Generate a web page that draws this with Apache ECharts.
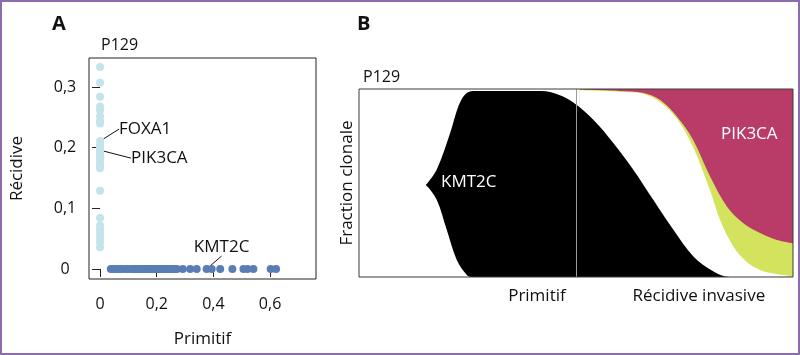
<!DOCTYPE html>
<html><head><meta charset="utf-8">
<script src="https://cdn.jsdelivr.net/npm/echarts@6/dist/echarts.min.js"></script>
<style>html,body{margin:0;padding:0;background:#fff}#c{width:800px;height:355px}</style>
</head><body><div id="c"></div>
<script>
// ---------- Panel A data (scatter, VAF) ----------
const recidiveOnlyY = [0.333, 0.307, 0.284, 0.268, 0.262, 0.252, 0.244, 0.240, 0.205, 0.201, 0.191, 0.186, 0.181, 0.175, 0.170, 0.166, 0.129, 0.084, 0.072, 0.065, 0.058, 0.051, 0.044, 0.036];
const primitifOnlyX = [0.038, 0.045, 0.053, 0.062, 0.071, 0.080, 0.092, 0.100, 0.112, 0.118, 0.124, 0.132, 0.139, 0.146, 0.153, 0.159, 0.165, 0.171, 0.176, 0.182, 0.188, 0.194, 0.200, 0.206, 0.212, 0.218, 0.224, 0.230, 0.235, 0.241, 0.247, 0.253, 0.259, 0.265, 0.271, 0.292, 0.318, 0.341, 0.394, 0.424, 0.467, 0.506, 0.520, 0.541, 0.602, 0.621];
const foxa1Y = 0.211;
const pik3caY = 0.196;
const kmt2cX = 0.376;
const xTicksA = [0, 0.2, 0.4, 0.6];
const yTicksA = [0, 0.1, 0.2, 0.3];

// ---------- Panel B data (fish plot boundaries, x in % of time span) ----------
const pik3caTop = [[50.9, 1], [100, 1]];
const pik3caBottom = [[50.9, 0.997], [60, 0.99], [65.4, 0.98], [69.4, 0.941], [73.3, 0.853], [77, 0.729], [80.9, 0.534], [84.8, 0.374], [88.5, 0.287], [92.4, 0.234], [96.3, 0.197], [100, 0.18]];
const yellowBottom = [[50.9, 0.993], [60, 0.985], [65.4, 0.975], [69.4, 0.93], [73.3, 0.84], [77, 0.69], [80.9, 0.46], [83.2, 0.303], [86.3, 0.161], [89.3, 0.081], [92.4, 0.037], [96.2, 0.016], [100, 0.005]];
const kmt2cTop = [[15.4, 0.49], [17.9, 0.571], [21.0, 0.766], [22.9, 0.908], [24.4, 0.97], [26.3, 0.989], [30, 0.99], [42, 0.99], [46, 0.97], [49.3, 0.93], [54, 0.837], [58.6, 0.713], [63.2, 0.571], [67.8, 0.411], [72.4, 0.252], [77, 0.11], [81.6, 0.03], [85.4, 0], [100, 0]];
const kmt2cBottom = [[14, 0.5], [15.4, 0.49], [17.9, 0.411], [20.2, 0.252], [22.5, 0.092], [24.8, 0.012], [25.9, 0], [27, 0]];
const dividerX = 50;
const timepointPos = [41, 78.3];
const timepointLabels = ['Primitif', 'Récidive invasive'];

const FONT = 'Open Sans';
const PINK = '#b83c67', YELLOW = '#d3e35e', LIGHT = '#c5e3eb', DARK = '#5a7db6';
const fmt = v => (Math.abs(v) < 1e-9 ? '0' : String(+v.toFixed(2)).replace('.', ','));

const chart = echarts.init(document.getElementById('c'), null, {renderer: 'canvas'});

const fishArea = (name, data, color) => ({
  name, type: 'line', xAxisIndex: 1, yAxisIndex: 1, data,
  smooth: 0.35, symbol: 'none', silent: true,
  lineStyle: {width: 0, opacity: 0},
  areaStyle: {color, opacity: 1, origin: 'start'}
});

const option = {
  animation: false,
  textStyle: {fontFamily: FONT, color: '#111'},
  title: [
    {text: 'A', left: 47, top: 9, textStyle: {fontSize: 20, fontWeight: 'bold', color: '#111', fontFamily: FONT}},
    {text: 'B', left: 352, top: 9, textStyle: {fontSize: 20, fontWeight: 'bold', color: '#111', fontFamily: FONT}},
    {text: 'P129', left: 96, top: 32, textStyle: {fontSize: 16, fontWeight: 'normal', color: '#111', fontFamily: FONT}},
    {text: 'P129', left: 358, top: 64, textStyle: {fontSize: 16, fontWeight: 'normal', color: '#111', fontFamily: FONT}}
  ],
  grid: [
    {left: 89, top: 58, width: 227, height: 221, show: true, borderColor: '#222', borderWidth: 1, backgroundColor: 'transparent'},
    {left: 359, top: 89, width: 434, height: 188, show: true, borderColor: '#3a3a3a', borderWidth: 1, backgroundColor: 'transparent', z: 10}
  ],
  xAxis: [
    {gridIndex: 0, type: 'value', min: -0.039, max: 0.762,
     name: 'Primitif', nameLocation: 'middle', nameGap: 52,
     nameTextStyle: {fontSize: 17, color: '#111', fontFamily: FONT},
     axisLine: {show: false}, splitLine: {show: false},
     axisTick: {show: true, inside: false, length: 8, customValues: xTicksA, lineStyle: {color: '#222'}},
     axisLabel: {customValues: xTicksA, formatter: fmt, margin: 17, fontSize: 16, color: '#111', fontFamily: FONT}},
    {gridIndex: 1, type: 'value', min: 0, max: 100,
     axisLine: {show: false}, splitLine: {show: false}, axisTick: {show: false},
     axisLabel: {customValues: timepointPos, formatter: v => timepointLabels[timepointPos.indexOf(v)] || '', margin: 11, fontSize: 17, color: '#111', fontFamily: FONT}}
  ],
  yAxis: [
    {gridIndex: 0, type: 'value', min: -0.0165, max: 0.348,
     name: 'Récidive', nameLocation: 'middle', nameGap: 63, nameRotate: 90,
     nameTextStyle: {fontSize: 17, color: '#111', fontFamily: FONT},
     axisLine: {show: false}, splitLine: {show: false},
     axisTick: {show: true, inside: false, length: 8, customValues: yTicksA, lineStyle: {color: '#222'}},
     axisLabel: {customValues: yTicksA, formatter: fmt, margin: 24, align: 'center', fontSize: 16, color: '#111', fontFamily: FONT}},
    {gridIndex: 1, type: 'value', min: 0, max: 1,
     name: 'Fraction clonale', nameLocation: 'middle', nameGap: 3, nameRotate: 90,
     nameTextStyle: {fontSize: 17, color: '#111', fontFamily: FONT},
     axisLine: {show: false}, splitLine: {show: false}, axisTick: {show: false}, axisLabel: {show: false}}
  ],
  series: [
    {type: 'scatter', xAxisIndex: 0, yAxisIndex: 0, symbolSize: 8, silent: true,
     itemStyle: {color: LIGHT, opacity: 1},
     data: recidiveOnlyY.map(y => [0, y])},
    {type: 'scatter', xAxisIndex: 0, yAxisIndex: 0, symbolSize: 8, silent: true,
     itemStyle: {color: DARK, opacity: 1},
     data: primitifOnlyX.map(x => [x, 0])},
    {type: 'scatter', xAxisIndex: 0, yAxisIndex: 0, symbolSize: 8, silent: true,
     itemStyle: {color: LIGHT, opacity: 1},
     label: {show: true, position: 'right', distance: 4, fontSize: 17, color: '#111', fontFamily: FONT,
             formatter: p => p.data.name},
     labelLine: {show: true, lineStyle: {color: '#111', width: 1}},
     labelLayout: p => ({dx: p.dataIndex === 0 ? 11 : 23, dy: p.dataIndex === 0 ? -12 : 8}),
     data: [{name: 'FOXA1', value: [0, foxa1Y]}, {name: 'PIK3CA', value: [0, pik3caY]}]},
    {type: 'scatter', xAxisIndex: 0, yAxisIndex: 0, symbolSize: 8, silent: true,
     itemStyle: {color: DARK, opacity: 1},
     label: {show: true, position: 'top', distance: 4, fontSize: 17, color: '#111', fontFamily: FONT,
             formatter: p => p.data.name},
     labelLine: {show: true, lineStyle: {color: '#111', width: 1}},
     labelLayout: {dx: 15, dy: -5},
     data: [{name: 'KMT2C', value: [kmt2cX, 0]}]},

    fishArea('PIK3CA', pik3caTop, PINK),
    fishArea('yellow', pik3caBottom, YELLOW),
    fishArea('white', yellowBottom, '#ffffff'),
    fishArea('KMT2C', kmt2cTop, '#000000'),
    fishArea('whiteBottom', kmt2cBottom, '#ffffff'),
    {type: 'line', xAxisIndex: 1, yAxisIndex: 1, data: [], silent: true, symbol: 'none',
     markLine: {silent: true, symbol: 'none', label: {show: false},
                lineStyle: {color: '#9a9a9a', width: 1, type: 'solid'},
                data: [{xAxis: dividerX}]}}
  ],
  graphic: [
    {type: 'text', left: 441, top: 174, z: 100, style: {text: 'KMT2C', fill: '#fff', fontSize: 17, fontFamily: FONT}},
    {type: 'text', left: 721, top: 126, z: 100, style: {text: 'PIK3CA', fill: '#fff', fontSize: 17, fontFamily: FONT}},
    {type: 'rect', z: 100, silent: true, shape: {x: 1, y: 1, width: 798, height: 353},
     style: {fill: 'none', stroke: '#8c6bb1', lineWidth: 2}}
  ]
};
chart.setOption(option);
</script>
</body></html>
